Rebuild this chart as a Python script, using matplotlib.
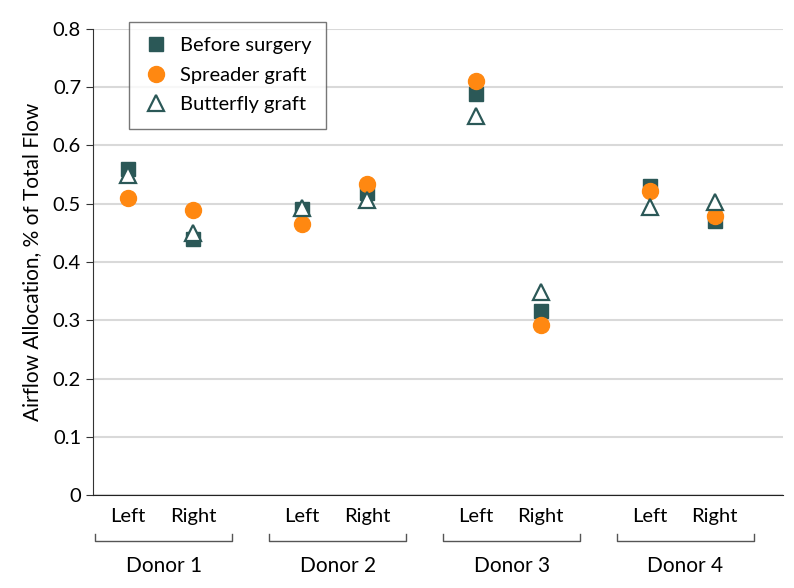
import numpy as np
import matplotlib.pyplot as plt
import matplotlib.transforms as mtransforms

plt.rcParams['font.family'] = ['Lato', 'DejaVu Sans']

donors = ['Donor 1', 'Donor 2', 'Donor 3', 'Donor 4']
sides = ['Left', 'Right']
before = [0.560, 0.440, 0.490, 0.518, 0.688, 0.315, 0.530, 0.470]
spreader = [0.510, 0.489, 0.465, 0.534, 0.710, 0.292, 0.522, 0.478]
butterfly = [0.550, 0.450, 0.493, 0.506, 0.650, 0.348, 0.494, 0.503]

teal = '#2b5857'
orange = '#ff8811'

group_gap = 2.68
x = np.array([g * group_gap + s for g in range(len(donors)) for s in range(len(sides))])

fig = plt.figure(figsize=(7.94, 5.88), dpi=100)
ax = fig.add_axes([0.117, 0.158, 0.869, 0.793])

ax.plot(x, before, 's', color=teal, ms=10.5, label='Before surgery', clip_on=False, zorder=3)
ax.plot(x, spreader, 'o', color=orange, ms=11.5, label='Spreader graft', clip_on=False, zorder=4)
ax.plot(x, butterfly, '^', mfc='white', mec=teal, mew=1.6, ms=11, label='Butterfly graft',
        clip_on=False, zorder=5)

ax.set_ylim(0, 0.8)
ax.set_xlim(-0.54, x[-1] + 1.05)
ax.set_yticks(np.arange(0, 0.81, 0.1))
ax.set_yticklabels(['0'] + [f'{v:.1f}' for v in np.arange(0.1, 0.81, 0.1)])
ax.yaxis.grid(True, color='#d9d9d9', lw=1.5)
ax.set_axisbelow(True)
for sp in ['top', 'right']:
    ax.spines[sp].set_visible(False)
ax.spines['left'].set_color('#333333')
ax.spines['bottom'].set_color('#222222')
ax.tick_params(axis='y', labelsize=14.5, length=5, color='#333333')
ax.set_xticks(x)
ax.set_xticklabels(sides * len(donors))
ax.tick_params(axis='x', length=0, pad=9, labelsize=14.5)
ax.set_ylabel('Airflow Allocation, % of Total Flow', fontsize=15, labelpad=8)

# brackets under each donor
trans = mtransforms.blended_transform_factory(ax.transData, ax.transAxes)
for g, name in enumerate(donors):
    c = g * group_gap + 0.55
    x0, x1 = c - 1.05, c + 1.05
    ax.plot([x0, x0, x1, x1], [-0.083, -0.099, -0.099, -0.083], color='#555555', lw=1,
            transform=trans, clip_on=False)
    ax.text(c, -0.13, name, transform=trans, ha='center', va='top', fontsize=15)

leg = ax.legend(loc='upper left', bbox_to_anchor=(0.038, 1.036), fontsize=14.5, frameon=True,
                fancybox=False, edgecolor='#555555', handletextpad=0.55, borderpad=0.75,
                labelspacing=0.62, handlelength=1.2)
leg.get_frame().set_linewidth(1)

fig.savefig('out.png', dpi=100)
